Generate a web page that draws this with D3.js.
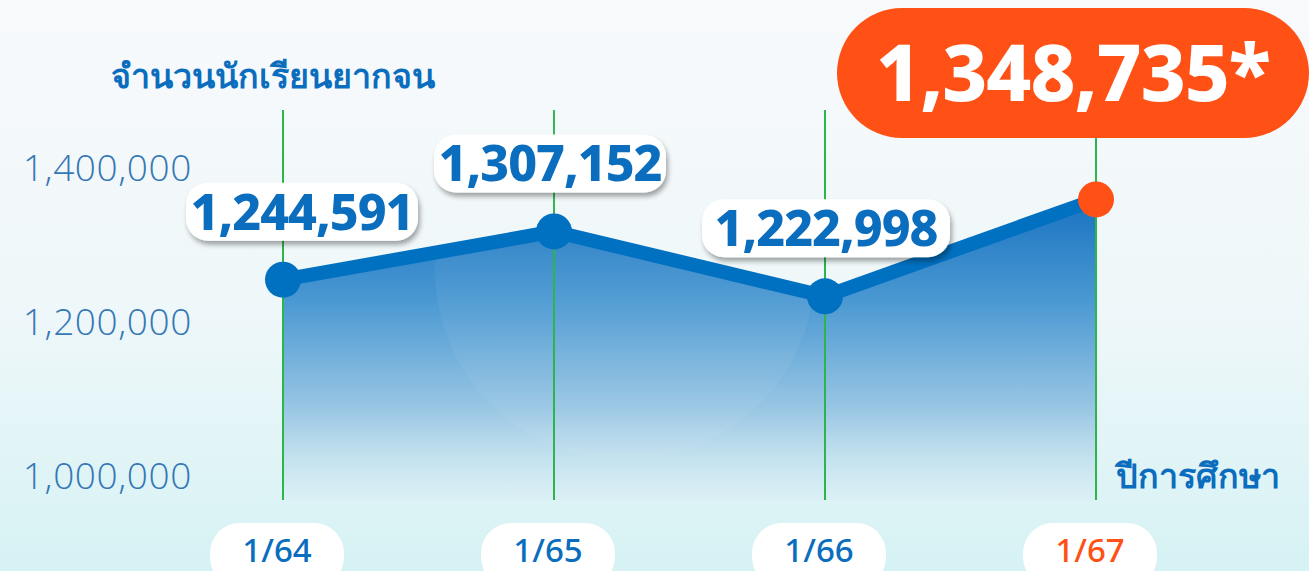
<!DOCTYPE html>
<html>
<head>
<meta charset="utf-8">
<script src="https://cdn.jsdelivr.net/npm/d3@7"></script>
<style>
  html, body { margin: 0; padding: 0; overflow: hidden; }
  body { width: 1309px; height: 571px; }
  svg { display: block; font-family: "Noto Sans", "Inter", sans-serif; }
</style>
</head>
<body>
<div id="chart"></div>
<script>
// chart data
let years = ["1/64", "1/65", "1/66", "1/67"];
let students = [1244591, 1307152, 1222998, 1348735];
let yTicks = [1000000, 1200000, 1400000];
let yTitle = "จำนวนนักเรียนยากจน";
let xTitle = "ปีการศึกษา";

// svg dimensions
let svgWidth = 1309,
  svgHeight = 571;

let blue = "#0a6dbd",
  orange = "#ff5116",
  green = "#2bb54a";

let svg = d3
  .select("#chart")
  .append("svg")
  .attr("width", svgWidth)
  .attr("height", svgHeight);

let defs = svg.append("defs");

// background gradient
let bg = defs
  .append("linearGradient")
  .attr("id", "bg")
  .attr("x1", 0)
  .attr("y1", 0)
  .attr("x2", 0)
  .attr("y2", 1);
bg.append("stop").attr("offset", "0%").attr("stop-color", "#f8fafc");
bg.append("stop").attr("offset", "55%").attr("stop-color", "#eef7f9");
bg.append("stop").attr("offset", "100%").attr("stop-color", "#d6f2f4");

// area gradient
let areaGrad = defs
  .append("linearGradient")
  .attr("id", "areaGrad")
  .attr("gradientUnits", "userSpaceOnUse")
  .attr("x1", 0)
  .attr("y1", 190)
  .attr("x2", 0)
  .attr("y2", 505);
areaGrad.append("stop").attr("offset", "0%").attr("stop-color", "#1570bf");
areaGrad.append("stop").attr("offset", "35%").attr("stop-color", "#4a98d2");
areaGrad.append("stop").attr("offset", "70%").attr("stop-color", "#9ac7e4");
areaGrad.append("stop").attr("offset", "100%").attr("stop-color", "#ddf1f5").attr("stop-opacity", 0.6);

// label shadow
let shadow = defs
  .append("filter")
  .attr("id", "shadow")
  .attr("x", "-20%")
  .attr("y", "-30%")
  .attr("width", "140%")
  .attr("height", "170%");
shadow
  .append("feDropShadow")
  .attr("dx", 2)
  .attr("dy", 4)
  .attr("stdDeviation", 2.5)
  .attr("flood-color", "#000")
  .attr("flood-opacity", 0.35);

svg
  .append("rect")
  .attr("width", svgWidth)
  .attr("height", svgHeight)
  .attr("fill", "url(#bg)");

// scales
let x = d3.scalePoint().domain(years).range([283, 1096]);
let y = d3.scaleLinear().domain([1000000, 1400000]).range([468, 160]);
let baseY = 500;

// vertical green guide lines
svg
  .selectAll(".guide")
  .data(years)
  .enter()
  .append("line")
  .classed("guide", true)
  .attr("x1", (d) => x(d))
  .attr("x2", (d) => x(d))
  .attr("y1", 110)
  .attr("y2", baseY)
  .attr("stroke", green)
  .attr("stroke-width", 2);

let pts = years.map((d, i) => ({ year: d, value: students[i] }));

// area under the line
let area = d3
  .area()
  .x((d) => x(d.year))
  .y0(baseY)
  .y1((d) => y(d.value));

svg
  .append("path")
  .datum(pts)
  .attr("d", area)
  .attr("fill", "url(#areaGrad)");

// faint decorative circle
svg
  .append("circle")
  .attr("cx", 625)
  .attr("cy", 270)
  .attr("r", 190)
  .attr("fill", "#ffffff")
  .attr("opacity", 0.05);

// redraw guides over the area
svg
  .selectAll(".guideTop")
  .data(years)
  .enter()
  .append("line")
  .attr("x1", (d) => x(d))
  .attr("x2", (d) => x(d))
  .attr("y1", (d, i) => y(students[i]))
  .attr("y2", baseY)
  .attr("stroke", green)
  .attr("stroke-width", 2);

// line
let line = d3
  .line()
  .x((d) => x(d.year))
  .y((d) => y(d.value));

svg
  .append("path")
  .datum(pts)
  .attr("d", line)
  .attr("fill", "none")
  .attr("stroke", "#0070c0")
  .attr("stroke-width", 14)
  .attr("stroke-linejoin", "round");

svg
  .selectAll(".dot")
  .data(pts)
  .enter()
  .append("circle")
  .classed("dot", true)
  .attr("cx", (d) => x(d.year))
  .attr("cy", (d) => y(d.value))
  .attr("r", 18)
  .attr("fill", (d, i) => (i === pts.length - 1 ? orange : "#0070c0"));

// y axis
let yAxis = d3
  .axisLeft(y)
  .tickValues(yTicks)
  .tickFormat(d3.format(","))
  .tickSize(0)
  .tickPadding(0);

let yAxisGroup = svg
  .append("g")
  .attr("transform", "translate(192, 8)")
  .call(yAxis);
yAxisGroup.select(".domain").remove();
yAxisGroup
  .selectAll("text")
  .attr("fill", "#3677b6")
  .attr("font-family", "'Open Sans', 'Noto Sans', sans-serif")
  .attr("font-weight", 300)
  .attr("font-size", 37)
  .attr("letter-spacing", 0.6)
  .attr("dy", "0.35em");

// titles
svg
  .append("text")
  .attr("x", 435)
  .attr("y", 75)
  .attr("text-anchor", "end")
  .attr("dominant-baseline", "central")
  .attr("fill", blue)
  .attr("font-weight", 900)
  .attr("font-size", 34)
  .text(yTitle);

svg
  .append("text")
  .attr("x", 1280)
  .attr("y", 475)
  .attr("text-anchor", "end")
  .attr("dominant-baseline", "central")
  .attr("fill", blue)
  .attr("font-weight", 900)
  .attr("font-size", 34)
  .text(xTitle);

// value labels (first three)
let labelOffsets = [19, -4, 1];
let valueLabels = svg
  .selectAll(".valueLabel")
  .data(pts.slice(0, 3))
  .enter()
  .append("g")
  .classed("valueLabel", true)
  .attr(
    "transform",
    (d, i) => `translate(${x(d.year) + labelOffsets[i]}, ${y(d.value) - 68})`
  );

valueLabels
  .append("rect")
  .attr("x", (d, i) => (i === 2 ? -124 : -116))
  .attr("y", -29)
  .attr("width", (d, i) => (i === 2 ? 248 : 232))
  .attr("height", 58)
  .attr("rx", 22)
  .attr("fill", "#fff")
  .attr("filter", "url(#shadow)");

valueLabels
  .append("text")
  .attr("text-anchor", "middle")
  .attr("dy", "0.36em")
  .attr("fill", blue)
  .attr("font-weight", 800)
  .attr("font-size", 50)
  .attr("letter-spacing", -1)
  .text((d) => d3.format(",")(d.value));

// highlighted last value
let last = pts[pts.length - 1];
let hl = svg
  .append("g")
  .attr("transform", `translate(${x(last.year) - 23}, 73)`);
hl.append("rect")
  .attr("x", -236)
  .attr("y", -65)
  .attr("width", 472)
  .attr("height", 130)
  .attr("rx", 65)
  .attr("fill", orange);
hl.append("text")
  .attr("text-anchor", "middle")
  .attr("dy", "0.36em")
  .attr("fill", "#fff")
  .attr("font-weight", 800)
  .attr("font-size", 78)
  .attr("letter-spacing", -1)
  .text(d3.format(",")(last.value) + "*");

// category pills at the bottom
let pills = svg
  .selectAll(".pill")
  .data(years)
  .enter()
  .append("g")
  .classed("pill", true)
  .attr("transform", (d) => `translate(${x(d) - 6}, 523)`);

pills
  .append("rect")
  .attr("x", -67)
  .attr("y", 0)
  .attr("width", 134)
  .attr("height", 64)
  .attr("rx", 30)
  .attr("fill", "#fff");

pills
  .append("text")
  .attr("y", 27)
  .attr("text-anchor", "middle")
  .attr("dy", "0.36em")
  .attr("fill", (d, i) => (i === years.length - 1 ? orange : blue))
  .attr("font-weight", 500)
  .attr("font-size", 33)
  .text((d) => d);
</script>
</body>
</html>
